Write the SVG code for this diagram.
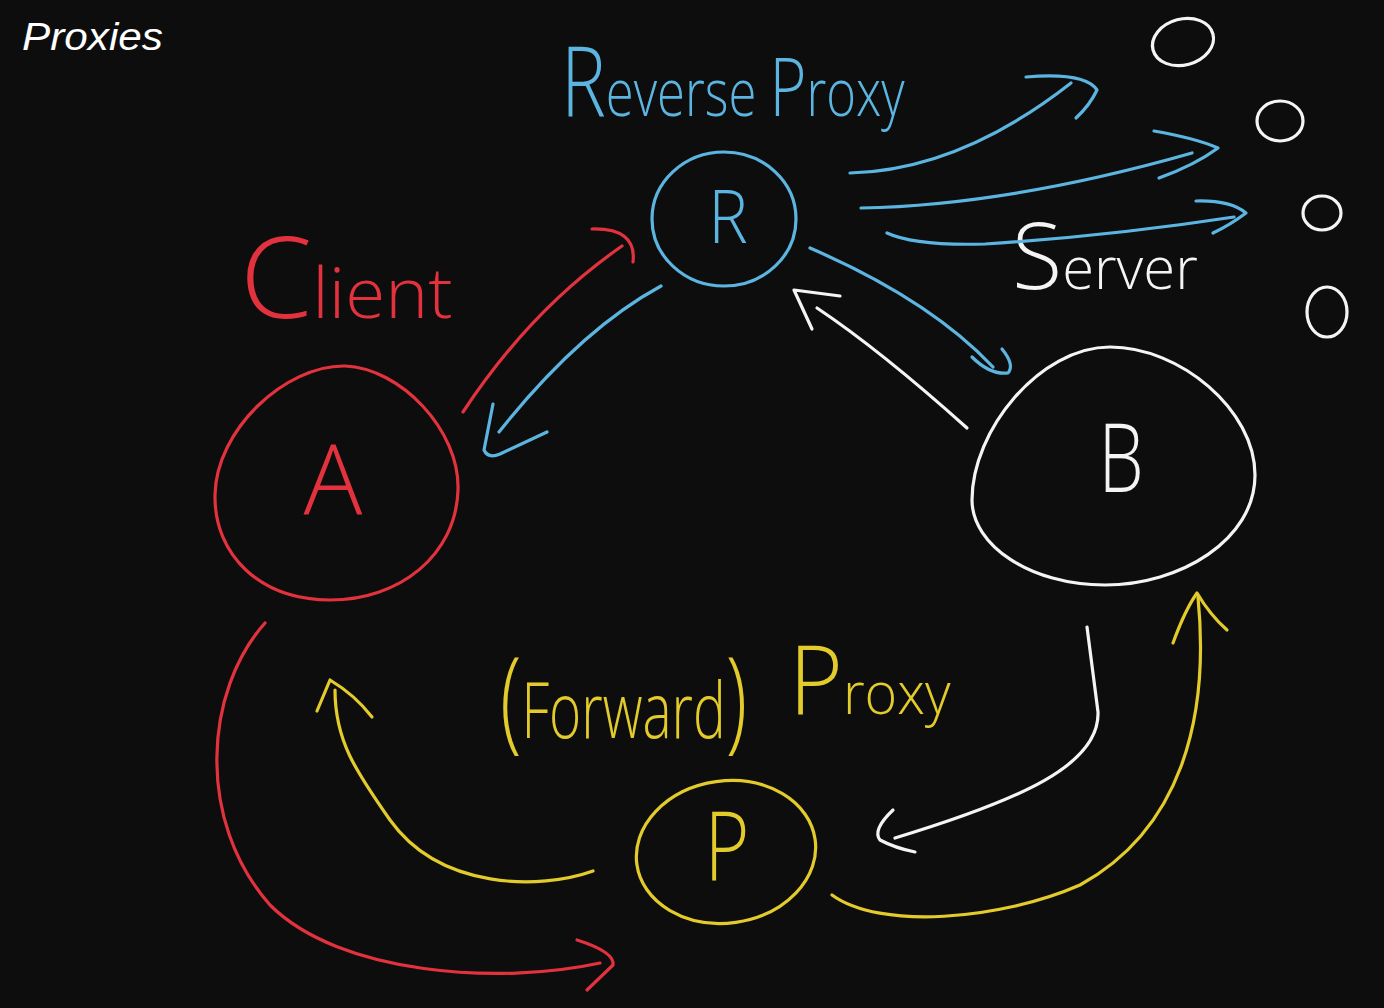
<svg xmlns="http://www.w3.org/2000/svg" width="1384" height="1008" viewBox="0 0 1384 1008">
<style>
.s{fill:none;stroke-width:3.2;stroke-linecap:round;stroke-linejoin:round}
.red{stroke:#e2323d}.blue{stroke:#5cb5e1}.yel{stroke:#e2cb2b}.wht{stroke:#f4f4f4}
.hand{font-family:"Open Sans","Noto Sans","Liberation Sans",sans-serif;font-weight:300}
.tr{fill:#e2323d}.tb{fill:#5cb5e1}.ty{fill:#e2cb2b}.tw{fill:#f4f4f4}
</style>
<rect width="1384" height="1008" fill="#0d0d0d"/>
<text x="22" y="50" font-family="Liberation Sans, Arial, sans-serif" font-style="italic" font-size="39" fill="#ffffff" textLength="141" lengthAdjust="spacingAndGlyphs">Proxies</text>

<g id="labels">
<text class="hand tb" transform="translate(561,116) scale(0.77,1)" font-size="66"><tspan font-size="98">R</tspan>everse <tspan font-size="82">P</tspan>roxy</text>
<text class="hand tr" transform="translate(240,318) scale(1.04,1)" font-size="70"><tspan font-size="112">C</tspan>lient</text>
<text class="hand tw" x="1012" y="289" font-size="58"><tspan font-size="92">S</tspan>erver</text>
<text class="hand ty" transform="translate(500,738) scale(0.705,1)" font-size="78"><tspan font-size="112">(</tspan>Forward<tspan font-size="112">)</tspan></text>
<text class="hand ty" transform="translate(789,714) scale(0.96,1)" font-size="58"><tspan font-size="96">P</tspan>roxy</text>
</g>

<g id="node-A">
<path class="s red" d="M345,366 C400,368 460,430 458,490 C456,555 400,600 330,600 C260,600 214,555 215,495 C216,430 285,365 345,366 Z"/>
<text class="hand tr" x="333" y="515" font-size="98" text-anchor="middle">A</text>
</g>
<g id="node-R">
<ellipse class="s blue" cx="724" cy="219" rx="72" ry="67"/>
<text class="hand tb" transform="translate(728,243) scale(0.9,1)" font-size="74" text-anchor="middle">R</text>
</g>
<g id="node-B">
<path class="s wht" d="M1110,347 C1180,347 1255,410 1255,475 C1255,540 1180,585 1105,585 C1030,585 972,545 972,500 C972,430 1040,347 1110,347 Z"/>
<text class="hand tw" transform="translate(1121,492) scale(0.75,1)" font-size="96" text-anchor="middle">B</text>
</g>
<g id="node-P">
<ellipse class="s yel" cx="726" cy="852" rx="90" ry="71" transform="rotate(-8 726 852)"/>
<text class="hand ty" transform="translate(727,880) scale(0.8,1)" font-size="96" text-anchor="middle">P</text>
</g>
<g id="server-1"><ellipse class="s wht" cx="1183" cy="42" rx="31" ry="23" transform="rotate(-15 1183 42)"/></g>
<g id="server-2"><ellipse class="s wht" cx="1280" cy="121" rx="23" ry="20"/></g>
<g id="server-3"><ellipse class="s wht" cx="1322" cy="213" rx="19" ry="17"/></g>
<g id="server-4"><ellipse class="s wht" cx="1327" cy="312" rx="20" ry="25"/></g>

<g id="connectors">
<path class="s red" d="M463,412 Q530,310 622,246"/>
<path class="s red" d="M592,229 Q637,228 633,262"/>
<path class="s blue" d="M661,286 Q580,330 499,432"/>
<path class="s blue" d="M493,404 L484,450 Q488,459 500,454 L547,432"/>
<path class="s blue" d="M810,248 Q930,300 993,367"/>
<path class="s blue" d="M972,357 Q990,375 1008,373 Q1015,365 1002,349"/>
<path class="s wht" d="M967,428 Q880,350 817,308"/>
<path class="s wht" d="M840,296 L794,290 L812,329"/>
<path class="s blue" d="M850,173 Q960,170 1071,83"/>
<path class="s blue" d="M1026,77 Q1085,72 1097,90 Q1090,105 1076,118"/>
<path class="s blue" d="M861,208 Q1010,205 1192,153"/>
<path class="s blue" d="M1154,131 Q1195,138 1218,148 Q1195,165 1159,178"/>
<path class="s blue" d="M887,233 Q915,246 985,244 Q1110,236 1234,217"/>
<path class="s blue" d="M1196,201 Q1230,200 1246,213 Q1230,225 1213,233"/>
<path class="s red" d="M265,623 C205,690 195,820 270,905 C340,975 500,985 600,963"/>
<path class="s red" d="M577,940 Q615,952 613,965 L587,990"/>
<path class="s yel" d="M593,871 C540,890 440,890 390,820 C355,770 335,740 335,690"/>
<path class="s yel" d="M317,711 L330,680 Q355,695 372,717"/>
<path class="s wht" d="M1087,627 L1098,712 C1100,765 1020,800 895,838"/>
<path class="s wht" d="M893,810 Q872,830 880,840 Q895,848 915,852"/>
<path class="s yel" d="M832,895 C880,930 1000,920 1080,885 C1180,830 1210,720 1198,597"/>
<path class="s yel" d="M1173,643 Q1185,610 1197,593 Q1210,615 1227,630"/>
</g>
</svg>
